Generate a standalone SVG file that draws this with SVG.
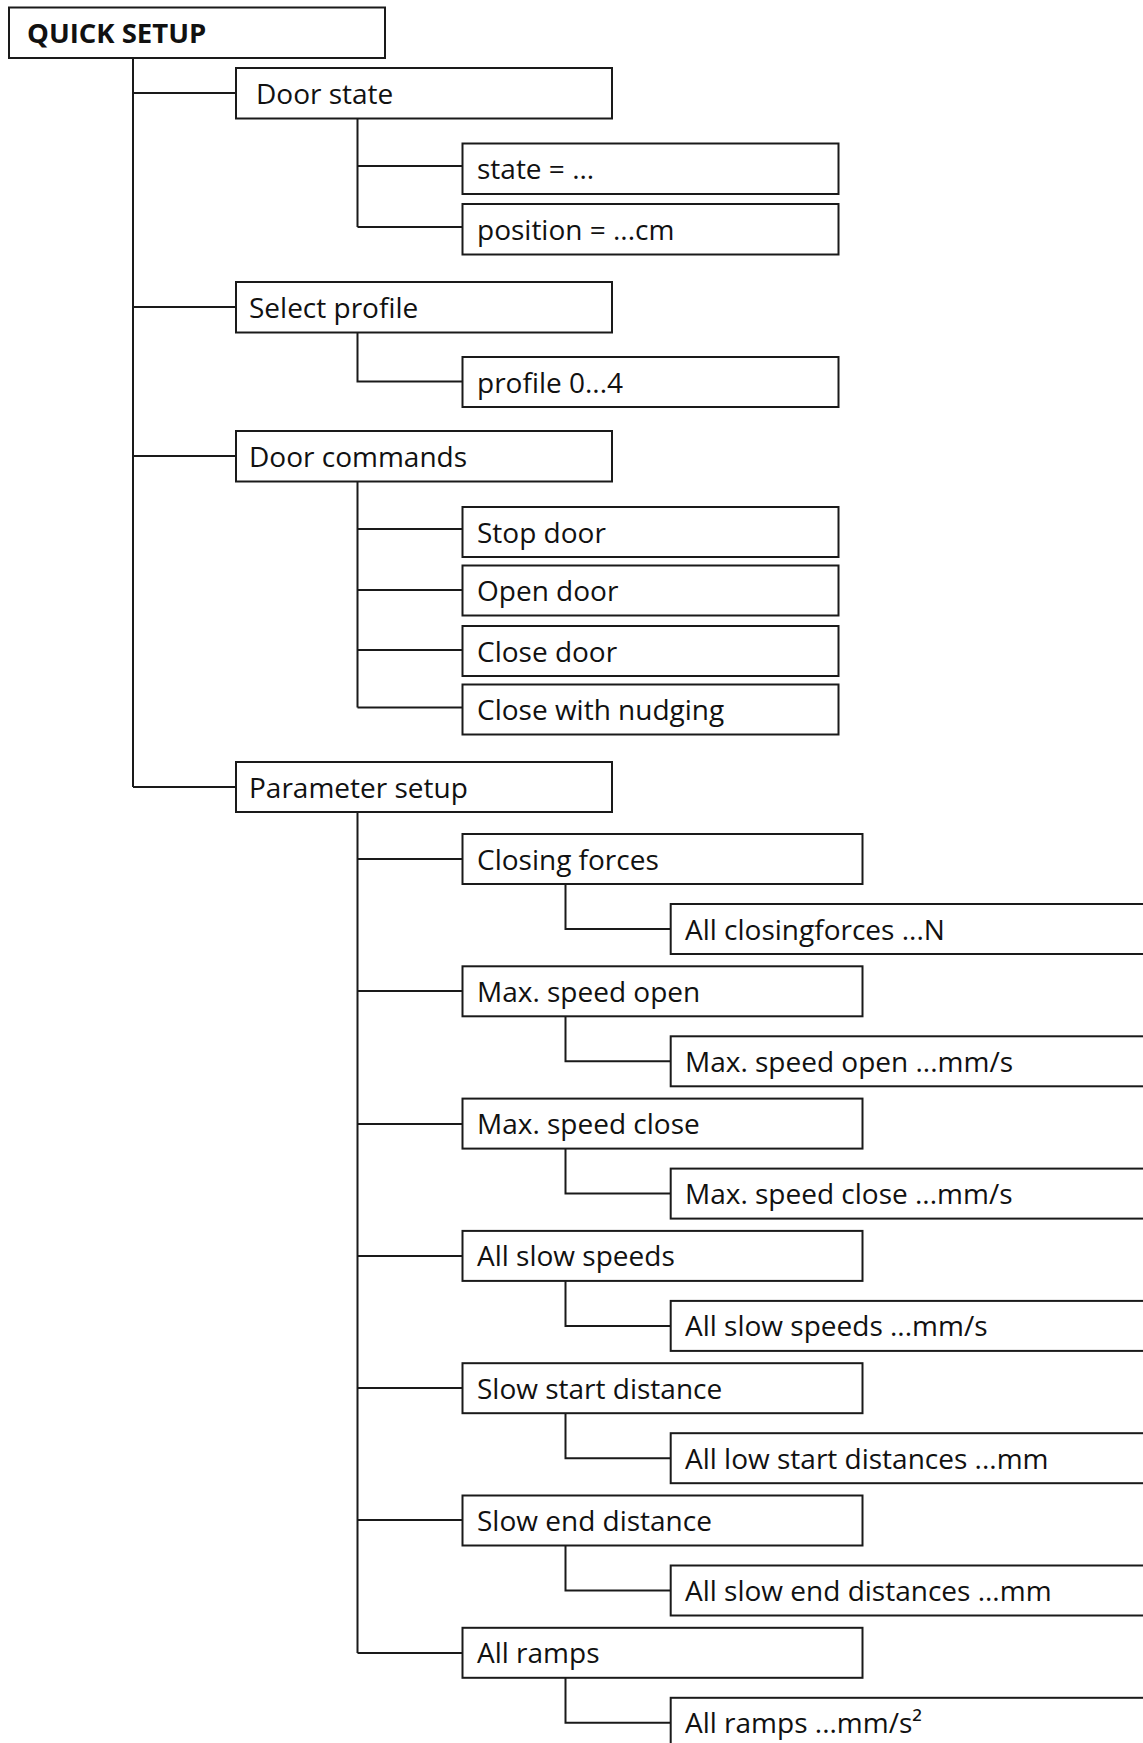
<svg xmlns="http://www.w3.org/2000/svg" width="1143" height="1743" viewBox="0 0 1143 1743">
<style>
.b{fill:#fff;stroke:#1a1a1a;stroke-width:2}
.c{fill:none;stroke:#1a1a1a;stroke-width:2}
text{font-family:"Open Sans","Noto Sans","Liberation Sans",sans-serif;font-size:28px;fill:#111}
.h{font-weight:bold;font-size:27.5px}
</style>
<rect width="1143" height="1743" fill="#fff"/>
<g id="connectors">
<path class="c" d="M133 58V787M133 93H236M133 307H236M133 456H236M133 787H236"/>
<path class="c" d="M357.5 118.5V227M357.5 166H462.5M357.5 227H462.5"/>
<path class="c" d="M357.5 332.5V381.5H462.5"/>
<path class="c" d="M357.5 481.5V707.5M357.5 529H462.5M357.5 590H462.5M357.5 650H462.5M357.5 707.5H462.5"/>
<path class="c" d="M357.5 812V1653M357.5 859H462.5M357.5 991H462.5M357.5 1124H462.5M357.5 1256H462.5M357.5 1388H462.5M357.5 1520H462.5M357.5 1653H462.5"/>
<path class="c" d="M565.5 884V929H670.7M565.5 1016.3V1061.3H670.7M565.5 1148.6V1193.6H670.7M565.5 1280.9V1325.9H670.7M565.5 1413.2V1458.2H670.7M565.5 1545.5V1590.5H670.7M565.5 1677.8V1722.8H670.7"/>
</g>
<g id="n0"><rect class="b" x="9" y="7.5" width="376" height="50.5"/><text class="h" x="27" y="42.5">QUICK SETUP</text></g>
<g id="n1"><rect class="b" x="236" y="68" width="376" height="50.5"/><text x="256" y="103.5">Door state</text></g>
<g id="n1a"><rect class="b" x="462.5" y="143.5" width="376" height="50.5"/><text x="477" y="179">state = ...</text></g>
<g id="n1b"><rect class="b" x="462.5" y="204" width="376" height="50.5"/><text x="477" y="239.5">position = ...cm</text></g>
<g id="n2"><rect class="b" x="236" y="282" width="376" height="50.5"/><text x="249" y="317.5">Select profile</text></g>
<g id="n2a"><rect class="b" x="462.5" y="357" width="376" height="50"/><text x="477" y="392.5">profile 0...4</text></g>
<g id="n3"><rect class="b" x="236" y="431" width="376" height="50.5"/><text x="249" y="466.5">Door commands</text></g>
<g id="n3a"><rect class="b" x="462.5" y="507" width="376" height="50"/><text x="477" y="542.5">Stop door</text></g>
<g id="n3b"><rect class="b" x="462.5" y="565.5" width="376" height="50"/><text x="477" y="601">Open door</text></g>
<g id="n3c"><rect class="b" x="462.5" y="626" width="376" height="50"/><text x="477" y="661.5">Close door</text></g>
<g id="n3d"><rect class="b" x="462.5" y="684.5" width="376" height="50"/><text x="477" y="720">Close with nudging</text></g>
<g id="n4"><rect class="b" x="236" y="762" width="376" height="50"/><text x="249" y="797.5">Parameter setup</text></g>
<g id="p1"><rect class="b" x="462.5" y="834" width="400" height="50"/><text x="477" y="869.5">Closing forces</text></g>
<g id="p1a"><rect class="b" x="670.7" y="904" width="500" height="50"/><text x="685" y="939.5">All closingforces ...N</text></g>
<g id="p2"><rect class="b" x="462.5" y="966.3" width="400" height="50"/><text x="477" y="1001.8">Max. speed open</text></g>
<g id="p2a"><rect class="b" x="670.7" y="1036.3" width="500" height="50"/><text x="685" y="1071.8">Max. speed open ...mm/s</text></g>
<g id="p3"><rect class="b" x="462.5" y="1098.6" width="400" height="50"/><text x="477" y="1134.1">Max. speed close</text></g>
<g id="p3a"><rect class="b" x="670.7" y="1168.6" width="500" height="50"/><text x="685" y="1204.1">Max. speed close ...mm/s</text></g>
<g id="p4"><rect class="b" x="462.5" y="1230.9" width="400" height="50"/><text x="477" y="1266.4">All slow speeds</text></g>
<g id="p4a"><rect class="b" x="670.7" y="1300.9" width="500" height="50"/><text x="685" y="1336.4">All slow speeds ...mm/s</text></g>
<g id="p5"><rect class="b" x="462.5" y="1363.2" width="400" height="50"/><text x="477" y="1398.7">Slow start distance</text></g>
<g id="p5a"><rect class="b" x="670.7" y="1433.2" width="500" height="50"/><text x="685" y="1468.7">All low start distances ...mm</text></g>
<g id="p6"><rect class="b" x="462.5" y="1495.5" width="400" height="50"/><text x="477" y="1531">Slow end distance</text></g>
<g id="p6a"><rect class="b" x="670.7" y="1565.5" width="500" height="50"/><text x="685" y="1601">All slow end distances ...mm</text></g>
<g id="p7"><rect class="b" x="462.5" y="1627.8" width="400" height="50"/><text x="477" y="1663.3">All ramps</text></g>
<g id="p7a"><rect class="b" x="670.7" y="1697.8" width="500" height="60"/><text x="685" y="1733.3">All ramps ...mm/s²</text></g>
</svg>
